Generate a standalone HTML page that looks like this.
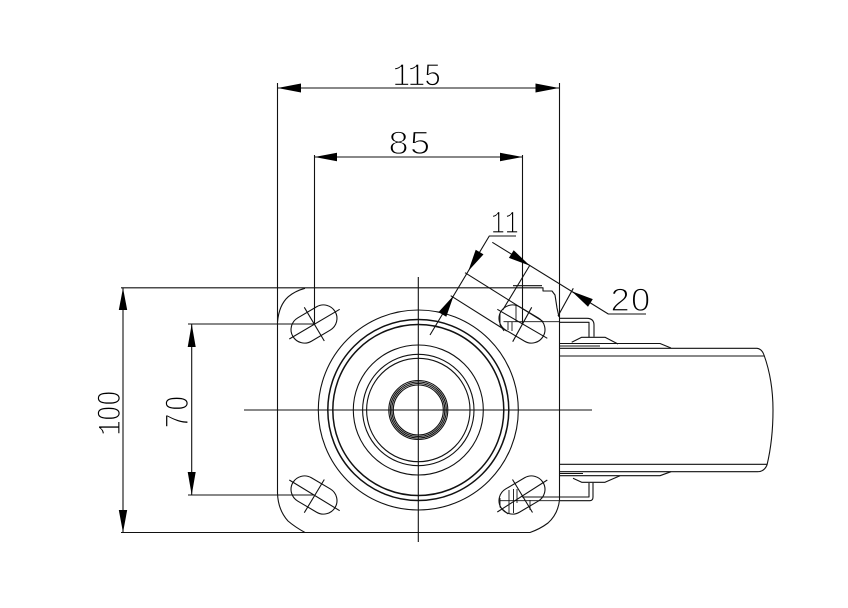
<!DOCTYPE html>
<html><head><meta charset="utf-8"><style>
html,body{margin:0;padding:0;background:#fff;width:848px;height:608px;overflow:hidden}
svg{display:block}
.l{fill:none;stroke:#111;stroke-width:1.1;stroke-linejoin:round}
.t{fill:none;stroke:#111;stroke-width:1.5}
.h{fill:none;stroke:#111;stroke-width:.9}
.a{fill:#000;stroke:none}
text{font-family:"Liberation Sans",sans-serif;font-size:32px;fill:#000;stroke:#fff;stroke-width:1.15;paint-order:fill stroke}
.m{font-family:"Liberation Mono",monospace}
</style></head><body>
<svg width="848" height="608" viewBox="0 0 848 608" xmlns="http://www.w3.org/2000/svg">
<!-- plate -->
<path class="l" d="M277.5 83V493 Q278 510 288 521 Q295 527 305 532.5 H530 Q540 529 548 523 Q558 514 559.5 500"/>
<path class="l" d="M559.5 83V500"/>
<path class="l" d="M277.5 322 Q279 305 288.3 296.7 Q295 291 305 288.3"/>
<path class="l" d="M121 287.8 H543 V291 H552 L555 295 L557 308 L559 317"/>
<path class="l" d="M513 285.7 H542 M121 532.5 H305"/>
<!-- circles -->
<g class="l">
<circle cx="418.3" cy="410" r="100"/><circle cx="418.3" cy="410" r="65"/>
<circle cx="418.3" cy="410" r="55.7"/><circle cx="418.3" cy="410" r="51.7"/>
</g>
<g class="t">
<circle cx="418.3" cy="410" r="90.5"/><circle cx="418.3" cy="410" r="85.5"/>
</g>
<g class="l">
<circle cx="418.3" cy="410" r="29.5"/><circle cx="418.3" cy="410" r="28"/>
<circle cx="418.3" cy="410" r="26.5"/><circle cx="418.3" cy="410" r="25"/>
</g>
<!-- centre lines -->
<path class="l" d="M418.3 277V542 M244 410H592"/>
<!-- slots -->
<g class="l">
<rect x="-24.5" y="-13.5" width="49" height="27" rx="13.5" transform="translate(314,324) rotate(-30.5)"/>
<rect x="-24.5" y="-13.5" width="49" height="27" rx="13.5" transform="translate(314,495) rotate(30.5)"/>
<rect x="-24.5" y="-13.5" width="49" height="27" rx="13.5" transform="translate(522,324) rotate(30.5)"/>
<rect x="-24.5" y="-13.5" width="49" height="27" rx="13.5" transform="translate(522,495) rotate(-30.5)"/>
<path d="M289.3 339L339.7 309.3M304.3 307.3L324.3 341"/>
<path d="M289.3 480L339.7 510.7M324.3 479.5L304.3 512.7"/>
<path d="M497.3 309.3L547.3 338.3M531.7 307.3L512.7 341.7"/>
<path d="M497.3 512L547.3 480M512.5 479.5L532.5 512.5"/>
</g>
<g class="h">
<!-- hidden details, top right -->
<path d="M500 313V325L504 331M503.5 321.7H512V331M508 322V330M516 305V322M510 321.7H559"/>
<!-- hidden details, bottom right -->
<path d="M500 498V507L508 514M500 500.7H559M513.5 489V513M509 490V514M517 489V503M530 500V510M559 497H522"/>
</g>
<!-- wheel and fork -->
<g class="l">
<path d="M560 348.3H757 Q762 349 764 355 Q773 380 773 410 Q773 440 767 465 Q764 472 757 471.7H560"/>
<path d="M559.5 356H764M559.5 464.3H767"/>
<path d="M560 343.5H660L671 348M560 346H600M560 475.7H660L671 471.7M560 473.5H583"/>
<path d="M571.7 342.3L581.7 337.3H605L618 344M573 478.3L581.7 482.3H605L620 475.7"/>
<path d="M559.5 318.3H587Q594 318.5 594 325V336.7M559.5 322.3H589V337"/>
<path d="M560 500.7H590Q593 500.5 593 497V482.7M560 497H589V483"/>
</g>
<!-- dimensions: 115, 85 -->
<g class="l">
<path d="M277.5 88H559"/>
<path d="M314.5 155V324M522.5 155V324M314.5 157H522.5"/>
<path d="M123 288V532.5"/>
<path d="M188 324H314M188 495H314M191.7 324V495"/>
<!-- 11 -->
<path d="M516 236H489.3L430 335"/>
<path d="M465 272.7L543.3 321.7M450.7 295.7L506.7 331"/>
<!-- 20 -->
<path d="M492.3 242.3L608.3 314H646"/>
<path d="M530 265L502.7 310M573.3 288.3L558 316"/>
</g>
<g class="a">
<polygon points="277.5,88 301,83.5 301,92.5"/><polygon points="559,88 535.5,83.5 535.5,92.5"/>
<polygon points="314.5,157 337,152.8 337,161.2"/><polygon points="522.5,157 500,152.8 500,161.2"/>
<polygon points="123,288 118.8,310 127.2,310"/><polygon points="123,532.5 118.8,510 127.2,510"/>
<polygon points="191.7,324 187.7,347 195.7,347"/><polygon points="191.7,495 187.7,472 195.7,472"/>
<polygon points="530,265.7 508.9,257.9 513.7,250.3"/><polygon points="571.7,291.3 588,306.7 592.8,299.1"/>
<polygon points="468.3,271 475.7,249.8 483.5,254.4"/><polygon points="453.7,295.5 438.5,312.1 446.3,316.7"/>
</g>
<!-- labels -->
<text class="m" transform="translate(392.5,85.5) scale(.92,1)" x="0 16.5 34">115</text>
<text transform="translate(388.5,154) scale(1.13,1)" x="0 19">85</text>
<text class="m" transform="translate(491,233) scale(.72,1)">11</text>
<text transform="translate(610.5,311) scale(1.08,1)" x="0 19">20</text>
<text transform="translate(120,434) rotate(-90) scale(.8,1)"><tspan class="m" x="-2">1</tspan><tspan x="17 36">00</tspan></text>
<text transform="translate(188,428) rotate(-90) scale(.8,1)" x="0 22">70</text>
</svg>
</body></html>
